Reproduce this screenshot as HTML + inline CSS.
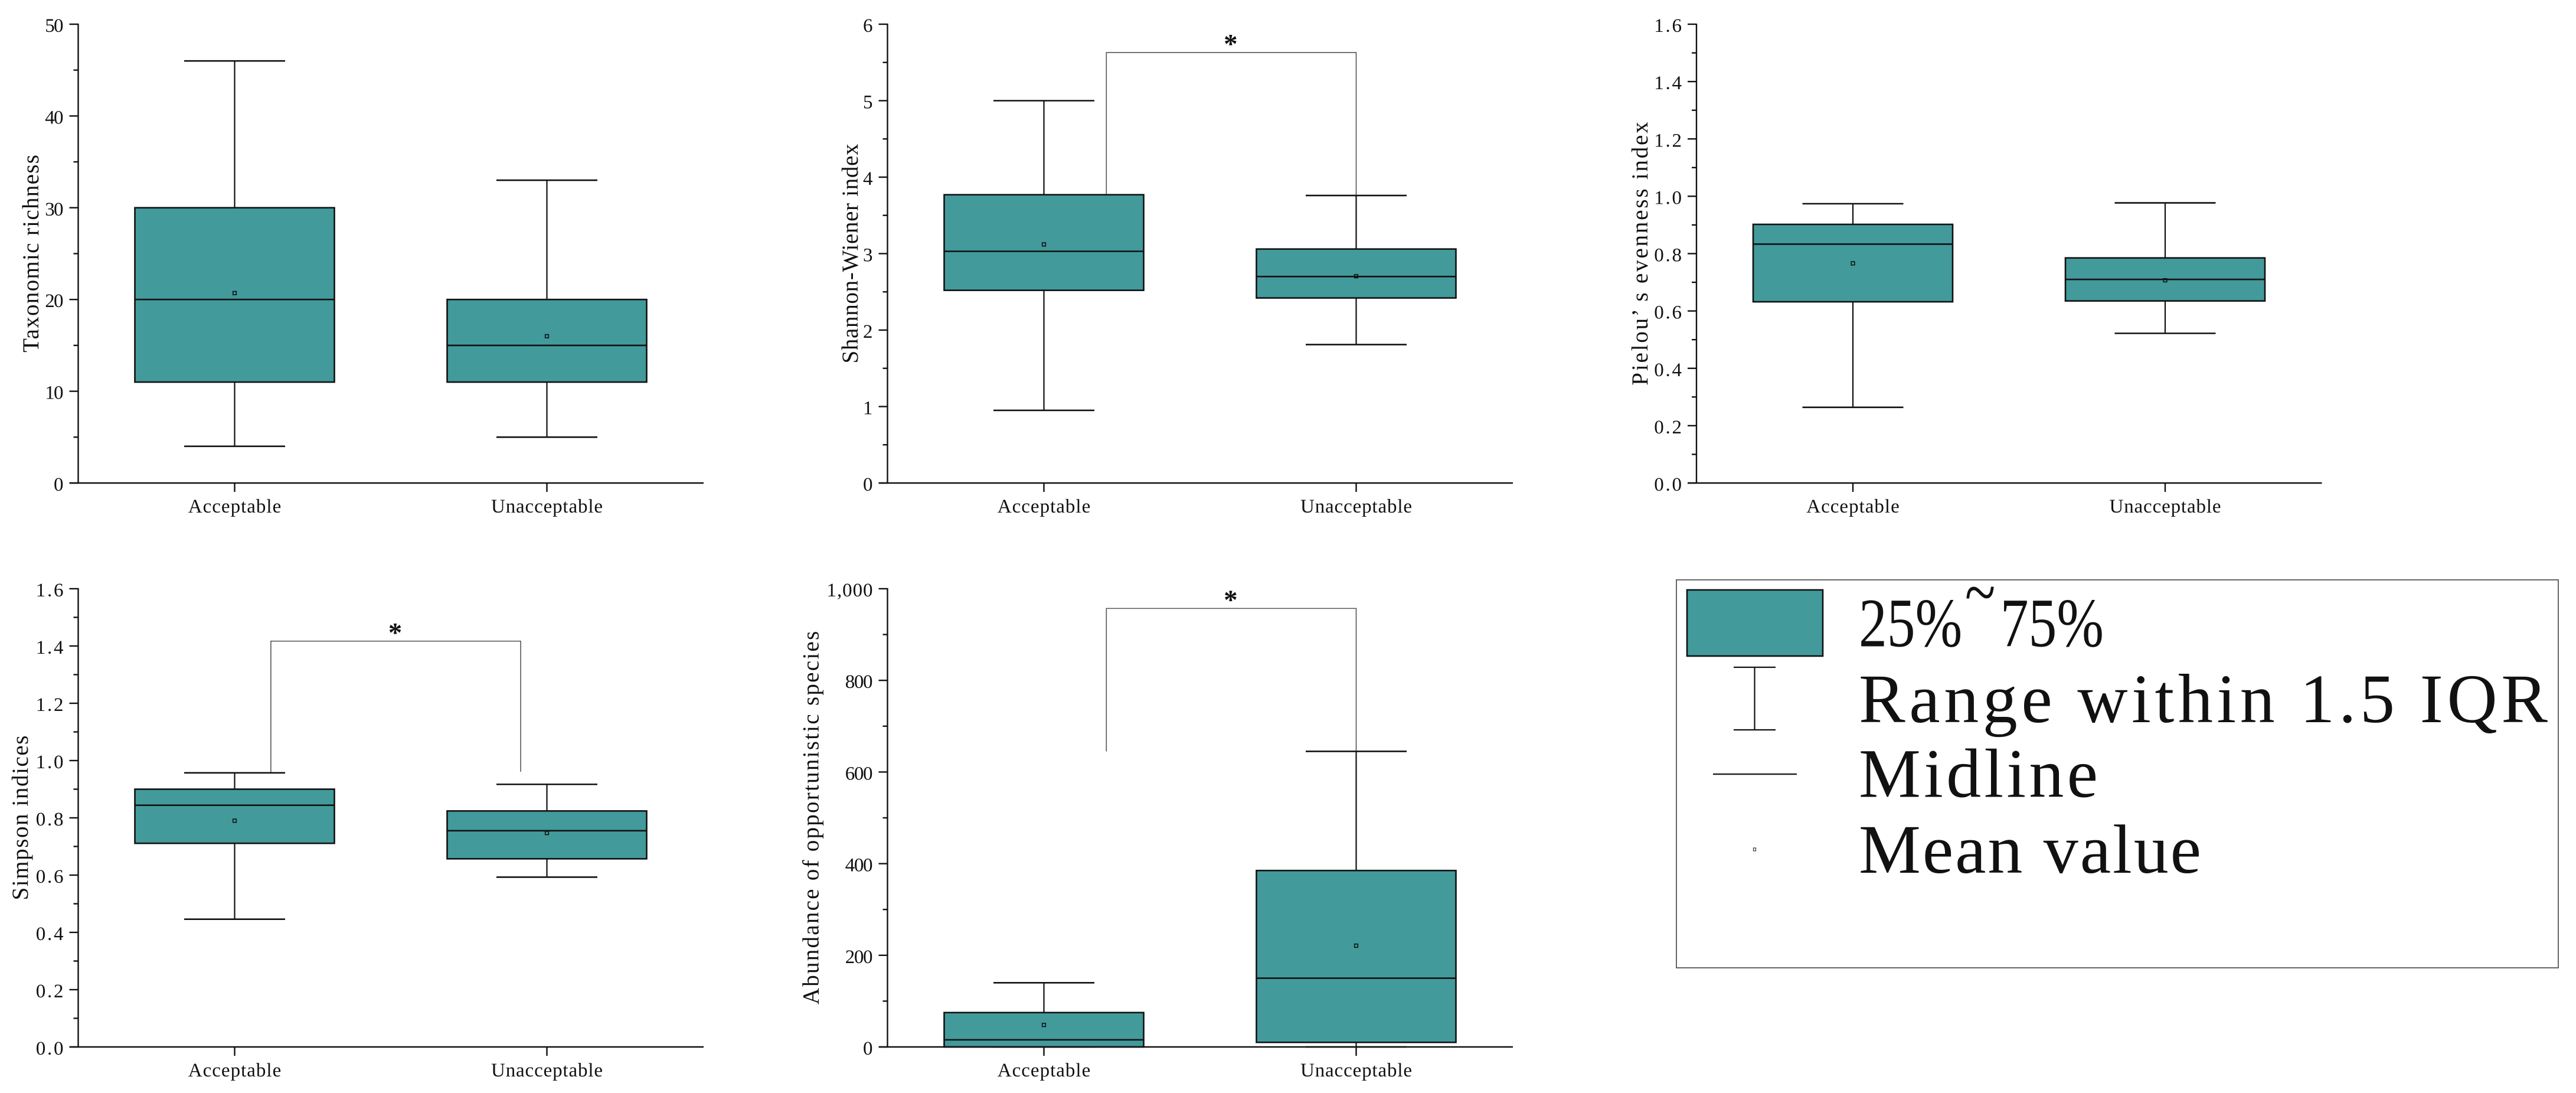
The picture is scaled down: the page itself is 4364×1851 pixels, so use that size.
<!DOCTYPE html>
<html lang="en">
<head>
<meta charset="utf-8">
<title>Box plots of community indices</title>
<style>
  html, body { margin: 0; padding: 0; background: #fff; }
  svg { display: block; }
  text { font-family: "Liberation Serif", "Noto Serif CJK SC", serif; fill: #111; }
</style>
</head>
<body>
<svg id="figure" xmlns="http://www.w3.org/2000/svg" width="4364" height="1851" viewBox="0 0 4364 1851">
  <rect x="0" y="0" width="4364" height="1851" fill="#fff"/>
  <g>
    <rect x="2840" y="982" width="1494" height="657" fill="#fff" stroke="#666" stroke-width="2"/>
    <rect x="2858" y="999" width="230" height="112" fill="#429A9B" stroke="#111" stroke-width="2.6"/>
    <g stroke="#111" stroke-width="2.2">
      <line x1="2972.5" y1="1130" x2="2972.5" y2="1236"/>
      <line x1="2937" y1="1130" x2="3008" y2="1130"/>
      <line x1="2937" y1="1236" x2="3008" y2="1236"/>
    </g>
    <line x1="2902" y1="1311" x2="3044" y2="1311" stroke="#222" stroke-width="2.6"/>
    <rect x="2970.5" y="1436" width="4" height="5" fill="#fff" stroke="#333" stroke-width="1.2"/>
    <text font-size="118" transform="translate(3149,1094.6) scale(0.81,1)"><tspan x="0">25%</tspan><tspan x="222" dy="-52">~</tspan><tspan x="296" dy="52">75%</tspan></text>
    <text font-size="118" x="3149" y="1223" textLength="1167" lengthAdjust="spacing">Range within 1.5 IQR</text>
    <text font-size="118" x="3149" y="1349.4" textLength="405" lengthAdjust="spacing">Midline</text>
    <text font-size="118" x="3149" y="1478" textLength="580" lengthAdjust="spacing">Mean value</text>
  </g>
</svg>
<script>
const categories = ['Acceptable', 'Unacceptable'];

const richnessHigh = [46, 33];
const richnessQ3 = [30, 20];
const richnessMedian = [20, 15];
const richnessQ1 = [11, 11];
const richnessLow = [4, 5];
const richnessMean = [20.7, 16];
const richnessTicks = [0, 10, 20, 30, 40, 50];
const richnessTickLabels = ['0', '10', '20', '30', '40', '50'];
const richnessMinor = [5, 15, 25, 35, 45];

const shannonHigh = [5.0, 3.76];
const shannonQ3 = [3.77, 3.06];
const shannonMedian = [3.03, 2.7];
const shannonQ1 = [2.52, 2.42];
const shannonLow = [0.95, 1.81];
const shannonMean = [3.12, 2.705];
const shannonTicks = [0, 1, 2, 3, 4, 5, 6];
const shannonTickLabels = ['0', '1', '2', '3', '4', '5', '6'];
const shannonMinor = [0.5, 1.5, 2.5, 3.5, 4.5, 5.5];
const shannonBracketLevels = [5.63, 3.77, 3.76];
const shannonBracketSpan = [0.2, 1.0];

const pielouHigh = [0.974, 0.977];
const pielouQ3 = [0.902, 0.785];
const pielouMedian = [0.833, 0.71];
const pielouQ1 = [0.632, 0.635];
const pielouLow = [0.264, 0.522];
const pielouMean = [0.766, 0.707];

const simpsonHigh = [0.957, 0.917];
const simpsonQ3 = [0.9, 0.824];
const simpsonMedian = [0.844, 0.755];
const simpsonQ1 = [0.711, 0.657];
const simpsonLow = [0.446, 0.593];
const simpsonMean = [0.79, 0.747];
const simpsonBracketLevels = [1.417, 0.957, 0.961];
const simpsonBracketSpan = [0.116, 0.916];

const evennessTicks = [0, 0.2, 0.4, 0.6, 0.8, 1.0, 1.2, 1.4, 1.6];
const evennessTickLabels = ['0.0', '0.2', '0.4', '0.6', '0.8', '1.0', '1.2', '1.4', '1.6'];
const evennessMinor = [0.1, 0.3, 0.5, 0.7, 0.9, 1.1, 1.3, 1.5];

const opportunisticHigh = [140, 645];
const opportunisticQ3 = [75, 385];
const opportunisticMedian = [15.5, 150];
const opportunisticQ1 = [0, 10];
const opportunisticLow = [0, 0];
const opportunisticMean = [48, 221];
const opportunisticTicks = [0, 200, 400, 600, 800, 1000];
const opportunisticTickLabels = ['0', '200', '400', '600', '800', '1,000'];
const opportunisticMinor = [100, 300, 500, 700, 900];
const opportunisticBracketLevels = [957, 645, 645];
const opportunisticBracketSpan = [0.2, 1.0];

const SVG_NS = 'http://www.w3.org/2000/svg';
const figure = document.getElementById('figure');

function create(parent, tag, attrs, content) {
  const node = document.createElementNS(SVG_NS, tag);
  Object.keys(attrs).forEach(function (key) { node.setAttribute(key, attrs[key]); });
  if (content !== undefined) node.textContent = content;
  parent.appendChild(node);
  return node;
}

function drawPanel(p) {
  const axisX = p.left + 132.5;
  const axisEnd = p.left + 1192;
  const firstCenter = p.left + 397.5;
  const centerStep = 529;
  const boxHalf = 169;
  const capHalf = 85.5;
  const yMax = p.ticks[p.ticks.length - 1];
  const yScale = function (v) { return p.bottom - (v / yMax) * (p.bottom - p.top); };
  const xScale = function (c) { return firstCenter + c * centerStep; };

  const g = create(figure, 'g', {});
  
  

  if (p.bracketLevels) {
    const bx1 = xScale(p.bracketSpan[0]);
    const bx2 = xScale(p.bracketSpan[1]);
    const by = yScale(p.bracketLevels[0]);
    const bracket = create(g, 'path', {
      d: 'M' + bx1 + ' ' + yScale(p.bracketLevels[1]) + 'V' + by + 'H' + bx2 + 'V' + yScale(p.bracketLevels[2]),
      fill: 'none', stroke: '#555', 'stroke-width': 1.6
    });
    
    
    const star = create(g, 'text', {
      x: (bx1 + bx2) / 2 - 1, y: by + 0.5, 'font-size': 47, 'text-anchor': 'middle', 'font-weight': 'bold'
    }, '*');
    
    
  }

  categories.forEach(function (cat, i) {
    const cx = xScale(i);
    const slug = cat.toLowerCase();
    const box = create(g, 'g', {});
    
    

    const whisker = create(box, 'line', {
      x1: cx, x2: cx, y1: yScale(p.high[i]), y2: yScale(p.low[i]), stroke: '#111', 'stroke-width': 2.2
    });
    
    

    const capHigh = create(box, 'line', {
      x1: cx - capHalf, x2: cx + capHalf, y1: yScale(p.high[i]), y2: yScale(p.high[i]), stroke: '#111', 'stroke-width': 2.6
    });
    
    

    const capLow = create(box, 'line', {
      x1: cx - capHalf, x2: cx + capHalf, y1: yScale(p.low[i]), y2: yScale(p.low[i]), stroke: '#111', 'stroke-width': 2.6
    });
    
    

    const iqr = create(box, 'rect', {
      x: cx - boxHalf, width: boxHalf * 2,
      y: yScale(p.q3[i]), height: yScale(p.q1[i]) - yScale(p.q3[i]),
      fill: '#429A9B', stroke: '#111', 'stroke-width': 2.6
    });
    
    

    const median = create(box, 'line', {
      x1: cx - boxHalf, x2: cx + boxHalf, y1: yScale(p.median[i]), y2: yScale(p.median[i]), stroke: '#111', 'stroke-width': 2.6
    });
    
    

    const mean = create(box, 'rect', {
      x: cx - 2.8, y: yScale(p.mean[i]) - 2.8, width: 5.6, height: 5.6,
      fill: 'none', stroke: '#111', 'stroke-width': 1.6
    });
    
    

    const xTick = create(g, 'line', {
      x1: cx, x2: cx, y1: p.bottom, y2: p.bottom + 15, stroke: '#111', 'stroke-width': 2.4
    });
    
    

    const xLabel = create(g, 'text', {
      x: cx, y: p.bottom + 50, 'font-size': 33, 'text-anchor': 'middle',
      textLength: cat.length * 15.75, lengthAdjust: 'spacing'
    }, cat);
    
    
  });

  const yAxis = create(g, 'line', {
    x1: axisX, x2: axisX, y1: p.top - 1, y2: p.bottom, stroke: '#111', 'stroke-width': 2.4
  });
  
  

  const xAxis = create(g, 'line', {
    x1: axisX - 15, x2: axisEnd, y1: p.bottom, y2: p.bottom, stroke: '#111', 'stroke-width': 2.6
  });
  
  

  p.ticks.forEach(function (v, i) {
    const tick = create(g, 'line', {
      x1: axisX - 15, x2: axisX, y1: yScale(v), y2: yScale(v), stroke: '#111', 'stroke-width': 2.4
    });
    
    

    const label = p.tickLabels[i];
    const tickLabel = create(g, 'text', {
      x: axisX - 25, y: yScale(v) + 13, 'font-size': 33, 'text-anchor': 'end',
      textLength: label.length * 15.6, lengthAdjust: 'spacing'
    }, label);
    
    
  });

  p.minor.forEach(function (v) {
    const minorTick = create(g, 'line', {
      x1: axisX - 8, x2: axisX, y1: yScale(v), y2: yScale(v), stroke: '#111', 'stroke-width': 2.4
    });
    
    
  });

  const title = create(g, 'text', {
    transform: 'translate(' + p.titleX + ',' + ((p.top + p.bottom) / 2) + ') rotate(-90)',
    'font-size': 39, 'text-anchor': 'middle',
    textLength: p.title.length * 18.6, lengthAdjust: 'spacing'
  }, p.title);
  
  
}

drawPanel({
  key: 'richness', left: 0, top: 41, bottom: 818, titleX: 65,
  title: 'Taxonomic richness',
  high: richnessHigh, q3: richnessQ3, median: richnessMedian, q1: richnessQ1, low: richnessLow, mean: richnessMean,
  ticks: richnessTicks, tickLabels: richnessTickLabels, minor: richnessMinor
});
drawPanel({
  key: 'shannon', left: 1371, top: 41, bottom: 818, titleX: 1453,
  title: 'Shannon-Wiener index',
  high: shannonHigh, q3: shannonQ3, median: shannonMedian, q1: shannonQ1, low: shannonLow, mean: shannonMean,
  ticks: shannonTicks, tickLabels: shannonTickLabels, minor: shannonMinor,
  bracketLevels: shannonBracketLevels, bracketSpan: shannonBracketSpan
});
drawPanel({
  key: 'pielou', left: 2741.5, top: 41, bottom: 818, titleX: 2791,
  title: 'Pielou\u2019 s evenness index',
  high: pielouHigh, q3: pielouQ3, median: pielouMedian, q1: pielouQ1, low: pielouLow, mean: pielouMean,
  ticks: evennessTicks, tickLabels: evennessTickLabels, minor: evennessMinor
});
drawPanel({
  key: 'simpson', left: 0, top: 997, bottom: 1773, titleX: 47,
  title: 'Simpson indices',
  high: simpsonHigh, q3: simpsonQ3, median: simpsonMedian, q1: simpsonQ1, low: simpsonLow, mean: simpsonMean,
  ticks: evennessTicks, tickLabels: evennessTickLabels, minor: evennessMinor,
  bracketLevels: simpsonBracketLevels, bracketSpan: simpsonBracketSpan
});
drawPanel({
  key: 'opportunistic', left: 1371, top: 997, bottom: 1773, titleX: 1386.7,
  title: 'Abundance of opportunistic species',
  high: opportunisticHigh, q3: opportunisticQ3, median: opportunisticMedian, q1: opportunisticQ1, low: opportunisticLow, mean: opportunisticMean,
  ticks: opportunisticTicks, tickLabels: opportunisticTickLabels, minor: opportunisticMinor,
  bracketLevels: opportunisticBracketLevels, bracketSpan: opportunisticBracketSpan
});
</script>
</body>
</html>
